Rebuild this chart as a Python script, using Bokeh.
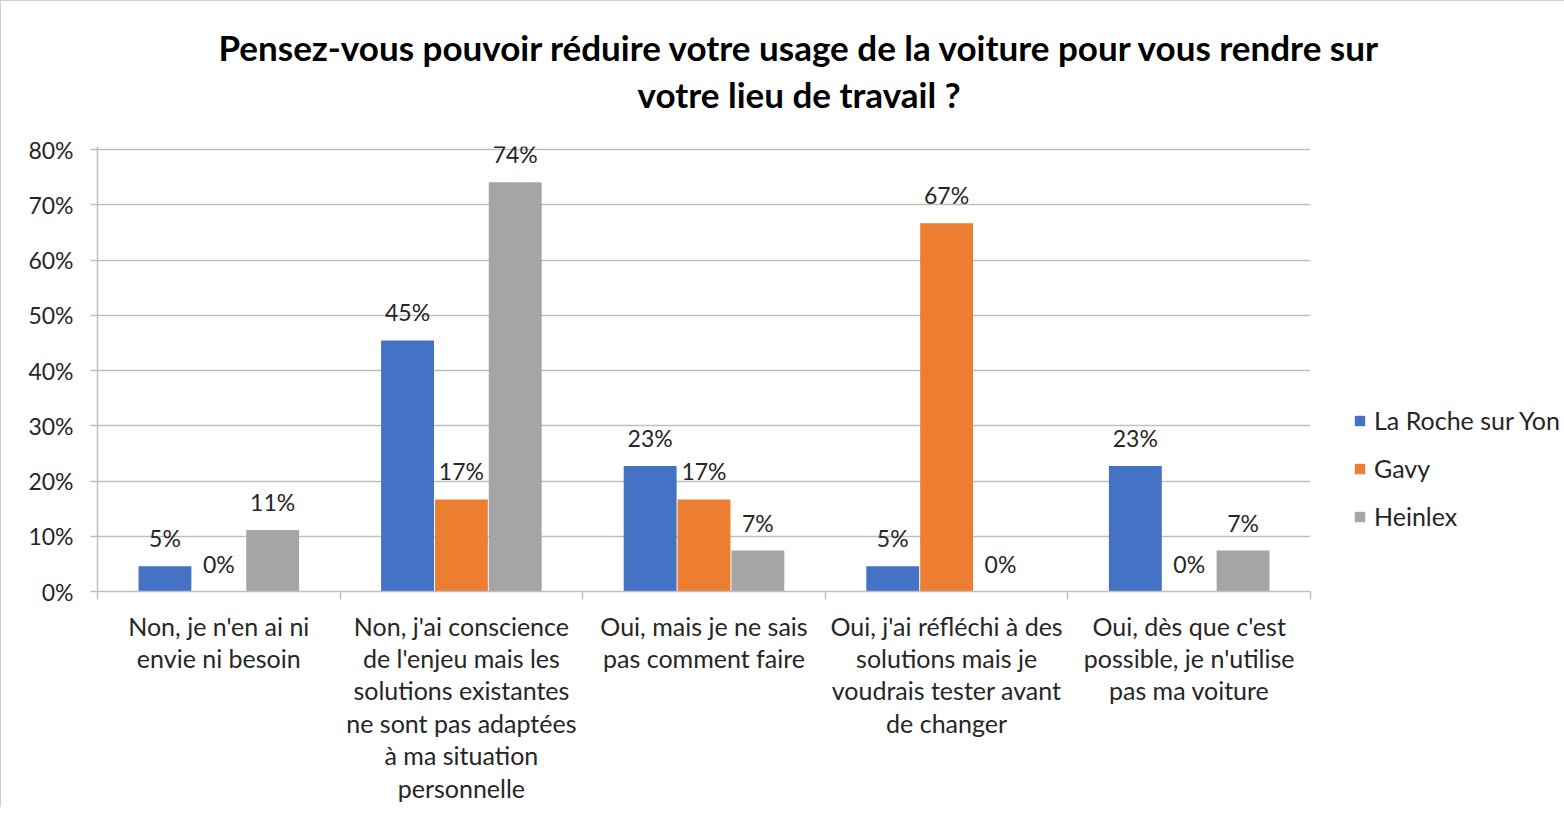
from bokeh.plotting import figure
from bokeh.models import (ColumnDataSource, Range1d, LinearAxis, FixedTicker, NumeralTickFormatter,
                          LabelSet, Legend, LegendItem, Title)
from bokeh.core.properties import value
from bokeh.transform import dodge
from bokeh.embed import file_html
from bokeh.resources import INLINE

categories = [
    "Non, je n'en ai ni\nenvie ni besoin",
    "Non, j'ai conscience\nde l'enjeu mais les\nsolutions existantes\nne sont pas adaptées\nà ma situation\npersonnelle",
    "Oui, mais je ne sais\npas comment faire",
    "Oui, j'ai réfléchi à des\nsolutions mais je\nvoudrais tester avant\nde changer",
    "Oui, dès que c'est\npossible, je n'utilise\npas ma voiture",
]
series_names = ["La Roche sur Yon", "Gavy", "Heinlex"]
la_roche = [0.0455, 0.4545, 0.2273, 0.0455, 0.2273]
gavy = [0.0, 0.1667, 0.1667, 0.6667, 0.0]
heinlex = [0.1111, 0.7407, 0.0741, 0.0, 0.0741]
y_ticks = [0, 0.1, 0.2, 0.3, 0.4, 0.5, 0.6, 0.7, 0.8]
title_line1 = "Pensez-vous pouvoir réduire votre usage de la voiture pour vous rendre sur"
title_line2 = "votre lieu de travail ?"

colors = ["#4472C4", "#ED7D31", "#A5A5A5"]
FONT = "Lato"
TXT = "#262626"
FL, FT, FR, FB = 96, 145, 1309, 590   # frame edges wanted, in canvas px
RIGHT, BOTTOM = 245, 216
n = len(categories)
centers = [i + 0.5 for i in range(n)]

p = figure(frame_width=FR - FL, frame_height=FB - FT,
           x_range=Range1d(0, n), y_range=Range1d(0, 0.8055),
           output_backend="svg", toolbar_location=None, x_axis_type=None,
           min_border_left=FL, min_border_right=RIGHT, min_border_top=FT, min_border_bottom=BOTTOM)
p.styles = {"border-top": "1px solid #d0d0d0", "border-left": "1px solid #d0d0d0"}
p.outline_line_color = None
p.background_fill_color = "white"
p.border_fill_color = "white"

# Titles (first added is closest to the frame); an empty spacer keeps the title off the plot
p.title.text = ""
p.add_layout(Title(text=" ", standoff=25, text_font_size="2px"), "above")
p.add_layout(Title(text=title_line2, align="left", offset=540, standoff=6,
                   text_font=FONT, text_font_style="bold", text_font_size="35px",
                   text_color="#000000"), "above")
p.add_layout(Title(text=title_line1, align="left", offset=121, standoff=0,
                   text_font=FONT, text_font_style="bold", text_font_size="35px",
                   text_color="#000000"), "above")

# Y axis
p.yaxis.ticker = FixedTicker(ticks=y_ticks)
p.yaxis.formatter = NumeralTickFormatter(format="0%")
p.yaxis.major_label_text_font = FONT
p.yaxis.major_label_text_font_size = "23px"
p.yaxis.major_label_text_color = TXT
p.yaxis.axis_line_color = "#bfbfbf"
p.yaxis.axis_line_width = 1.5
p.yaxis.major_tick_line_color = "#bfbfbf"
p.yaxis.major_tick_line_width = 1.5
p.yaxis.major_tick_out = 7
p.yaxis.major_tick_in = 0
p.yaxis.minor_tick_line_color = None
p.yaxis.major_label_standoff = 17

p.ygrid.grid_line_color = "#bfbfbf"
p.ygrid.grid_line_width = 1.5
p.ygrid.ticker = FixedTicker(ticks=y_ticks)

# X axis: labels at category centres, boundary tick marks as minor ticks
cat_axis = LinearAxis(ticker=FixedTicker(ticks=centers, minor_ticks=list(range(n + 1))),
                      axis_line_color="#bfbfbf", axis_line_width=1.5,
                      major_tick_line_color=None, major_tick_out=0, major_tick_in=0,
                      minor_tick_line_color="#bfbfbf", minor_tick_line_width=1.5,
                      minor_tick_out=8, minor_tick_in=0,
                      major_label_text_font=FONT, major_label_text_font_size="25px",
                      major_label_text_color=TXT, major_label_standoff=11,
                      major_label_text_line_height=1.08,
                      major_label_overrides={c: lab for c, lab in zip(centers, categories)})
p.add_layout(cat_axis, "below")

# Bars
src = ColumnDataSource(dict(
    pos=centers, s0=la_roche, s1=gavy, s2=heinlex,
    l0=[f"{round(v * 100)}%" for v in la_roche],
    l1=[f"{round(v * 100)}%" for v in gavy],
    l2=[f"{round(v * 100)}%" for v in heinlex],
))
offsets = [-0.222, 0.0, 0.222]
renderers = []
for k, name in enumerate(series_names):
    r = p.vbar(x=dodge("pos", offsets[k]), top=f"s{k}", width=0.218,
               source=src, fill_color=colors[k], line_color=None)
    renderers.append(r)
    labels = LabelSet(x=dodge("pos", offsets[k]), y=f"s{k}", text=f"l{k}",
                      source=src, text_align="center", text_baseline="alphabetic", y_offset=19,
                      text_font=value(FONT), text_font_size=value("23px"), text_color=TXT)
    p.add_layout(labels)

legend = Legend(items=[LegendItem(label=nm, renderers=[r]) for nm, r in zip(series_names, renderers)],
                location=(43, 60), orientation="vertical", border_line_color=None,
                background_fill_alpha=0, padding=0, margin=0, spacing=18,
                glyph_width=13, glyph_height=13, label_height=20, label_standoff=8,
                label_text_font=FONT, label_text_font_size="25px", label_text_color=TXT)
p.add_layout(legend, "right")

open("out.html", "w").write(file_html(p, INLINE))
